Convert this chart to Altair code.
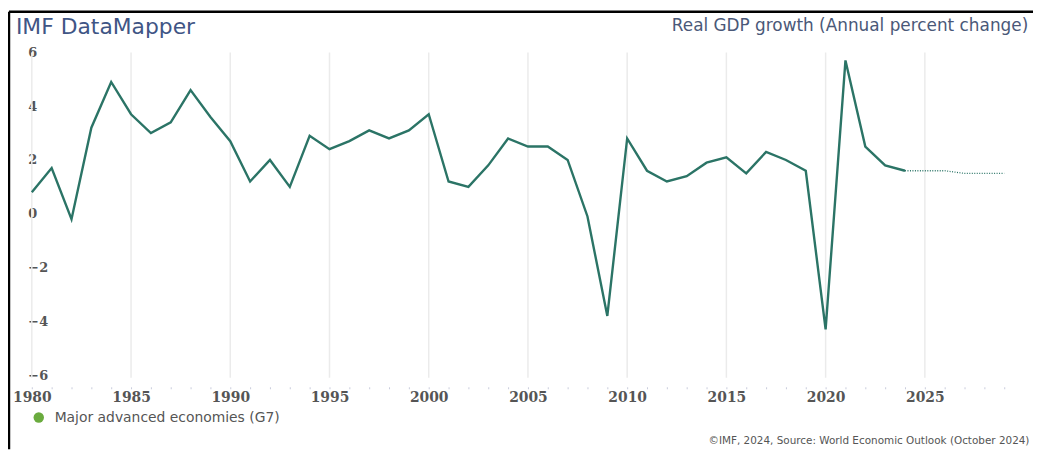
import altair as alt
import pandas as pd

# ---- data ----
years = list(range(1980, 2030))
gdp_growth = [
    0.8, 1.7, -0.2, 3.2, 4.9, 3.7, 3.0, 3.4, 4.6, 3.6,
    2.7, 1.2, 2.0, 1.0, 2.9, 2.4, 2.7, 3.1, 2.8, 3.1,
    3.7, 1.2, 1.0, 1.8, 2.8, 2.5, 2.5, 2.0, -0.1, -3.8,
    2.8, 1.6, 1.2, 1.4, 1.9, 2.1, 1.5, 2.3, 2.0, 1.6,
    -4.3, 5.7, 2.5, 1.8, 1.6, 1.6, 1.6, 1.5, 1.5, 1.5,
]
last_actual_year = 2024
grid_years = [1980, 1985, 1990, 1995, 2000, 2005, 2010, 2015, 2020, 2025]
y_ticks = [-6, -4, -2, 0, 2, 4, 6]
series_name = "Major advanced economies (G7)"
title_text = "IMF DataMapper"
subtitle_text = "Real GDP growth (Annual percent change)"
footer_text = "\u00a9IMF, 2024, Source: World Economic Outlook (October 2024)"

# ---- layout ----
PAD_L, PAD_T, PAD_R, PAD_B = 24, 43, 9, 72
W, H = 1000, 328
LINE_COLOR = "#2b7466"
LEGEND_COLOR = "#6aab3e"
TICK_FONT = "DejaVu Serif"
TEXT_FONT = "DejaVu Sans"

df = pd.DataFrame({"year": years, "value": gdp_growth})
actual = df[df["year"] <= last_actual_year]
proj = df[df["year"] >= last_actual_year]

x_scale = alt.Scale(domain=[1980, 2030], nice=False, zero=False)
y_scale = alt.Scale(domain=[-6.1, 6], nice=False, zero=False)

x_axis = alt.Axis(
    title=None, values=years, grid=False, domain=False,
    ticks=True, tickSize=2, tickColor="#c9ccdc", tickWidth=1,
    offset=9, labelPadding=2,
    labelExpr="datum.value % 5 == 0 ? '' + datum.value : ''",
    labelFont=TICK_FONT, labelFontSize=14, labelFontWeight="bold",
    labelColor="#555555", labelOverlap=False, labelFlush=False,
)
y_axis = alt.Axis(
    title=None, values=y_ticks, grid=False, domain=False,
    ticks=False, tickSize=0, labelAlign="left", labelPadding=4,
    labelFont=TICK_FONT, labelFontSize=13, labelFontWeight="bold",
    labelColor="#555555", labelOverlap=False,
)

grid = alt.Chart(pd.DataFrame({"year": grid_years})).mark_rule(
    color="#ebebeb", strokeWidth=1.5
).encode(
    x=alt.X("year:Q", scale=x_scale, axis=x_axis),
    y=alt.value(0), y2=alt.value(H),
)

line_actual = alt.Chart(actual).mark_line(
    color=LINE_COLOR, strokeWidth=2.4
).encode(
    x=alt.X("year:Q", scale=x_scale, axis=x_axis),
    y=alt.Y("value:Q", scale=y_scale, axis=y_axis),
)

line_proj = alt.Chart(proj).mark_line(
    color=LINE_COLOR, strokeWidth=1.3, strokeDash=[1, 1.5]
).encode(
    x=alt.X("year:Q", scale=x_scale, axis=x_axis),
    y=alt.Y("value:Q", scale=y_scale, axis=y_axis),
)

one = pd.DataFrame({"k": [0]})

title = alt.Chart(pd.DataFrame({"t": [title_text]})).mark_text(
    align="left", baseline="alphabetic", font=TEXT_FONT, fontSize=22,
    color="#3f5585",
).encode(x=alt.value(-16), y=alt.value(-19), text="t:N")

subtitle = alt.Chart(pd.DataFrame({"t": [subtitle_text]})).mark_text(
    align="left", baseline="alphabetic", font=TEXT_FONT, fontSize=17,
    color="#4a5878",
).encode(x=alt.value(645), y=alt.value(-22), text="t:N")

legend_dot = alt.Chart(pd.DataFrame({"t": [series_name]})).mark_point(
    shape="circle", filled=True, size=110, color=LEGEND_COLOR, opacity=1
).encode(x=alt.value(7), y=alt.value(368))

legend_text = alt.Chart(pd.DataFrame({"t": [series_name]})).mark_text(
    align="left", baseline="middle", font=TEXT_FONT, fontSize=14,
    color="#555555",
).encode(x=alt.value(23), y=alt.value(368), text="t:N")

footer = alt.Chart(pd.DataFrame({"t": [footer_text]})).mark_text(
    align="left", baseline="middle", font=TEXT_FONT, fontSize=10.5,
    color="#555555",
).encode(x=alt.value(682), y=alt.value(392), text="t:N")

border_top = alt.Chart(one).mark_rule(color="#000000", strokeWidth=2.5).encode(
    x=alt.value(-23), x2=alt.value(W + PAD_R + 30), y=alt.value(-41)
)
border_left = alt.Chart(one).mark_rule(color="#000000", strokeWidth=2.5).encode(
    x=alt.value(-23), y=alt.value(-41), y2=alt.value(H + PAD_B)
)

chart = alt.layer(
    grid, line_actual, line_proj, title, subtitle,
    legend_dot, legend_text, footer, border_top, border_left,
).properties(
    width=W, height=H,
    padding={"left": PAD_L, "top": PAD_T, "right": PAD_R, "bottom": PAD_B},
    autosize=alt.AutoSizeParams(type="none"),
    background="white",
).configure_view(stroke=None).configure_axis(labelOverlap=False)

chart.save("out.html", embed_options={"renderer": "svg", "actions": False})
